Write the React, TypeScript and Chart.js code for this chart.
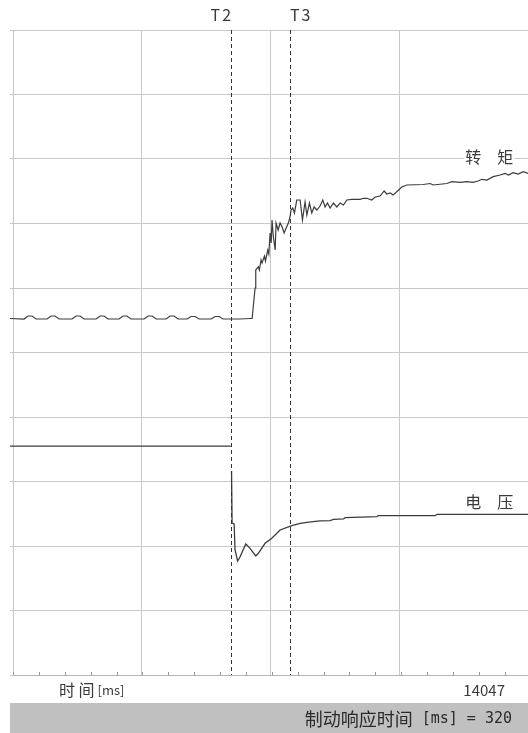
import { useEffect, useRef } from "react";
import { Chart, registerables } from "chart.js";

Chart.register(...registerables);

// ---- data (x: time units, y: percent of full scale) ----
const torqueX = [
  -2.3, 8.5, 11.6, 14.7, 17.8, 26.3, 29.4, 32.5, 35.6, 45.6, 48.7, 51.8, 54.9, 64.2, 67.3, 70.4, 73.4,
  81.9, 85.0, 88.1, 91.2, 101.3, 104.4, 107.5, 110.6, 118.3, 121.4, 124.5, 127.6, 134.5, 137.6, 140.7,
  143.8, 153.1, 156.2, 159.3, 162.3, 175.5, 183.2, 184.8, 187.1, 187.6, 189.6, 190.4, 191.7, 192.5,
  194.3, 195.1, 196.9, 197.7, 198.7, 199.5, 200.2, 201.2, 202.6, 203.3, 204.9, 206.4, 208.0, 209.5,
  211.1, 212.8, 214.1, 214.9, 216.2, 217.5, 219.3, 221.9, 223.7, 225.7, 227.1, 229.1, 230.9, 232.7,
  234.8, 237.3, 239.4, 241.2, 243.0, 245.1, 247.6, 250.3, 252.8, 255.4, 258.0, 261.8, 268.3, 270.8,
  273.4, 277.3, 279.9, 283.7, 286.8, 288.9, 291.5, 293.8, 296.6, 300.5, 304.4, 317.0, 322.4, 324.7,
  335.3, 339.2, 345.6, 350.7, 355.6, 359.5, 362.3, 366.2, 371.1, 376.5, 380.4, 382.7, 386.6, 390.4,
  394.3, 398.1,
];
const torqueY = [
  55.27, 55.19, 55.66, 55.66, 55.19, 55.19, 55.66, 55.66, 55.19, 55.19, 55.66, 55.66, 55.19, 55.19,
  55.66, 55.66, 55.19, 55.19, 55.66, 55.66, 55.19, 55.19, 55.66, 55.66, 55.19, 55.19, 55.66, 55.66,
  55.19, 55.19, 55.58, 55.58, 55.19, 55.19, 55.58, 55.58, 55.19, 55.19, 55.27, 55.27, 60.0, 62.79,
  63.3, 62.79, 64.34, 63.88, 64.96, 64.19, 65.89, 65.27, 68.53, 66.98, 70.54, 67.95, 65.89, 70.08,
  68.99, 70.08, 69.46, 68.53, 69.3, 70.08, 71.01, 72.09, 72.4, 71.63, 73.64, 73.64, 70.54, 73.33,
  71.32, 73.18, 71.63, 72.56, 72.09, 72.71, 73.64, 72.56, 73.18, 72.4, 73.18, 72.56, 73.18, 72.87,
  73.64, 73.75, 73.75, 73.91, 73.91, 73.64, 74.11, 74.26, 75.04, 74.57, 74.73, 74.42, 74.93, 75.66,
  75.97, 76.05, 76.2, 75.97, 76.2, 76.48, 76.39, 76.48, 76.39, 76.59, 76.85, 76.74, 77.26, 77.52,
  77.78, 77.52, 77.88, 77.67, 78.03, 77.78,
];
const voltageX = [
  -2.3, 168.3, 168.6, 168.9, 169.3, 170.9, 171.6, 173.6, 175.5, 179.9, 183.2, 187.6, 189.6, 194.8,
  200.0, 206.4, 215.5, 221.9, 227.1, 231.9, 237.3, 245.1, 247.6, 255.4, 256.7, 281.2, 282.2, 326.3,
  327.6, 398.1,
];
const voltageY: (number | null)[] = [
  35.5, 35.5, null, 31.63, 23.57, 23.41, 19.38, 17.67, 18.34, 20.31, 19.64, 18.45, 18.87, 20.42,
  21.19, 22.48, 23.15, 23.52, 23.67, 23.77, 23.88, 23.92, 24.14, 24.19, 24.39, 24.54, 24.7, 24.7,
  24.91, 24.91,
];
const markerNames = ["T2", "T3"];
const markerX = [168.5, 214.1];
const seriesNames = [["转", "矩"], ["电", "压"]];
const seriesLabelAt = [80.3, 26.8]; // y value of each label
const timeEndLabel = "14047";
const responseMs = 320;

const X_MAX = 398;
const CJK = '"Noto Sans CJK SC", "Noto Sans", sans-serif';
const LINE = "#3c3c3c";
const TEXT = "#3a3a3a";

const overlay = {
  id: "overlay",
  beforeDraw(chart: any) {
    const ctx = chart.ctx;
    ctx.save();
    ctx.fillStyle = "#ffffff";
    ctx.fillRect(0, 0, chart.width, chart.height);
    ctx.restore();
  },
  afterDatasetsDraw(chart: any) {
    const ctx = chart.ctx;
    const xs = chart.scales.x;
    const ys = chart.scales.y;
    const area = chart.chartArea;
    ctx.save();

    // dashed marker lines
    ctx.strokeStyle = "#333";
    ctx.lineWidth = 1;
    ctx.setLineDash([4, 3]);
    markerX.forEach((v) => {
      const px = Math.round(xs.getPixelForValue(v)) + 0.5;
      ctx.beginPath();
      ctx.moveTo(px, area.top);
      ctx.lineTo(px, area.bottom);
      ctx.stroke();
    });
    ctx.setLineDash([]);

    // marker names
    ctx.fillStyle = TEXT;
    ctx.font = `16px ${CJK}`;
    ctx.textBaseline = "middle";
    (ctx as any).letterSpacing = "2px";
    markerNames.forEach((n, i) => {
      const px = xs.getPixelForValue(markerX[i]);
      ctx.textAlign = i === 0 ? "right" : "left";
      ctx.fillText(n, i === 0 ? px + 2 : px, 15);
    });
    (ctx as any).letterSpacing = "0px";

    // minor ticks on time axis
    ctx.strokeStyle = "#9a9a9a";
    ctx.lineWidth = 1;
    for (let v = 0; v <= X_MAX; v += 20) {
      const px = Math.round(xs.getPixelForValue(v)) + 0.5;
      ctx.beginPath();
      ctx.moveTo(px, area.bottom);
      ctx.lineTo(px, area.bottom - 3);
      ctx.stroke();
    }

    // series labels (two characters, widely spaced)
    ctx.font = `16px ${CJK}`;
    ctx.textAlign = "center";
    seriesNames.forEach((chars, i) => {
      const cx = xs.getPixelForValue(368);
      const cy = ys.getPixelForValue(seriesLabelAt[i]);
      ctx.fillStyle = "#ffffff";
      ctx.fillRect(cx - 25, cy - 9, 50, 18);
      ctx.fillStyle = TEXT;
      ctx.fillText(chars[0], cx - 16, cy);
      ctx.fillText(chars[1], cx + 16, cy);
    });

    // bottom axis captions
    const axisY = area.bottom + 15;
    ctx.textAlign = "left";
    ctx.font = `16px ${CJK}`;
    ctx.fillText("时 间", 59, axisY);
    const w1 = ctx.measureText("时 间").width;
    ctx.font = `13px ${CJK}`;
    ctx.fillText(" [ms]", 59 + w1, axisY);
    ctx.font = `15px ${CJK}`;
    ctx.textAlign = "right";
    ctx.fillText(timeEndLabel, 505, axisY);

    // status bar
    ctx.fillStyle = "#c0c0c0";
    ctx.fillRect(10, 703, chart.width - 10, chart.height - 703);
    const parts: [string, string][] = [
      ["制动响应时间", `18px ${CJK}`],
      [` [ms] = ${responseMs}`, `15px "DejaVu Sans Mono", monospace`],
    ];
    let total = 0;
    const widths = parts.map(([t, f]) => {
      ctx.font = f;
      const w = ctx.measureText(t).width;
      total += w;
      return w;
    });
    let x = 512 - total;
    ctx.fillStyle = "#2a2a2a";
    ctx.textAlign = "left";
    parts.forEach(([t, f], i) => {
      ctx.font = f;
      ctx.fillText(t, x, 719);
      x += widths[i];
    });

    ctx.restore();
  },
};

export default function App() {
  const ref = useRef<HTMLCanvasElement | null>(null);

  useEffect(() => {
    if (!ref.current) return;
    const chart = new Chart(ref.current, {
      type: "line",
      data: {
        datasets: [
          {
            label: "转矩",
            data: torqueX.map((x, i) => ({ x, y: torqueY[i] })),
            borderColor: LINE,
            borderWidth: 1.2,
            pointRadius: 0,
            tension: 0,
            clip: false as any,
          },
          {
            label: "电压",
            data: voltageX.map((x, i) => ({ x, y: voltageY[i] as any })),
            borderColor: LINE,
            borderWidth: 1.3,
            pointRadius: 0,
            tension: 0,
            spanGaps: false,
            clip: false as any,
          },
        ],
      },
      options: {
        animation: false,
        responsive: false,
        layout: { padding: { left: 10, right: 0, top: 30, bottom: 58 } },
        plugins: { legend: { display: false }, tooltip: { enabled: false } },
        scales: {
          x: {
            type: "linear",
            min: 0,
            max: X_MAX,
            ticks: { display: false, stepSize: 100 },
            grid: { color: "#c9c9c9", drawTicks: false, lineWidth: 1 },
            border: { display: true, color: "#b4b4b4" },
          },
          y: {
            type: "linear",
            min: 0,
            max: 100,
            ticks: { display: false, stepSize: 10 },
            grid: { color: "#c9c9c9", drawTicks: true, tickLength: 3, lineWidth: 1 },
            border: { display: true, color: "#c4c4c4" },
          },
        },
      },
      plugins: [overlay],
    });
    return () => chart.destroy();
  }, []);

  return (
    <div style={{ position: "fixed", left: 0, top: 0, width: 528, height: 733, overflow: "hidden", background: "#fff" }}>
      <canvas ref={ref} width={528} height={733} style={{ width: 528, height: 733, display: "block" }} />
    </div>
  );
}
